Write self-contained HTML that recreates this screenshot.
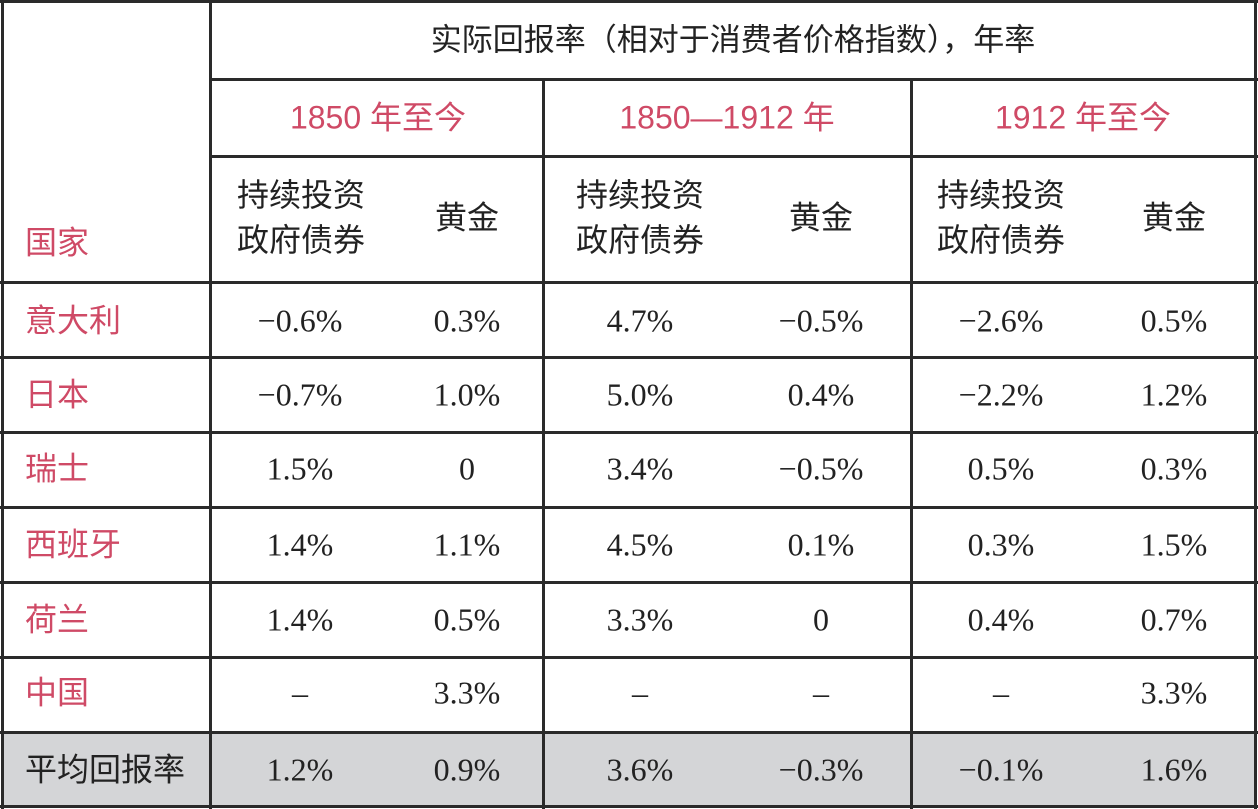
<!DOCTYPE html><html><head><meta charset="utf-8"><style>
body{margin:0;width:1258px;height:809px;background:#fff;position:relative;overflow:hidden}
.h,.v{position:absolute;background:#2a2a2a}
.h{height:3px}.v{width:3px}
.t{position:absolute;transform:translate(-50%,-50%);white-space:nowrap;font-family:"Liberation Sans","Noto Sans CJK SC",sans-serif;font-size:32px;color:#222;line-height:45px;text-align:center}
.r{color:#cf4a66}
.n{font-family:"Liberation Serif","Noto Serif CJK SC",serif;font-size:32px}
.l{transform:translate(0,-50%)}
</style></head><body>
<div style="position:absolute;left:2px;top:732px;width:1254px;height:75px;background:#d4d5d7"></div>
<div class="h" style="left:0;top:0;width:1258px"></div>
<div class="h" style="left:210px;top:78px;width:1048px"></div>
<div class="h" style="left:210px;top:155px;width:1048px"></div>
<div class="h" style="left:0;top:281px;width:1258px"></div>
<div class="h" style="left:0;top:356px;width:1258px"></div>
<div class="h" style="left:0;top:431px;width:1258px"></div>
<div class="h" style="left:0;top:506px;width:1258px"></div>
<div class="h" style="left:0;top:581px;width:1258px"></div>
<div class="h" style="left:0;top:656px;width:1258px"></div>
<div class="h" style="left:0;top:731px;width:1258px"></div>
<div class="h" style="left:0;top:805px;width:1258px"></div>
<div class="v" style="left:1px;top:0;height:809px"></div>
<div class="v" style="left:209px;top:0;height:809px"></div>
<div class="v" style="left:542px;top:78px;height:731px"></div>
<div class="v" style="left:910px;top:78px;height:731px"></div>
<div class="v" style="left:1254px;top:0;height:809px"></div>

<div class="t" style="left:733px;top:40px;font-size:31px">实际回报率（相对于消费者价格指数），年率</div>
<div class="t r" style="left:378px;top:118px">1850 年至今</div>
<div class="t r" style="left:727px;top:118px">1850—1912 年</div>
<div class="t r" style="left:1083px;top:118px">1912 年至今</div>
<div class="t" style="left:301px;top:218px">持续投资<br>政府债券</div>
<div class="t" style="left:467px;top:218px">黄金</div>
<div class="t" style="left:640px;top:218px">持续投资<br>政府债券</div>
<div class="t" style="left:821px;top:218px">黄金</div>
<div class="t" style="left:1001px;top:218px">持续投资<br>政府债券</div>
<div class="t" style="left:1174px;top:218px">黄金</div>
<div class="t r l" style="left:25px;top:243px">国家</div>

<div class="t r l" style="left:25px;top:321px">意大利</div>
<div class="t r l" style="left:25px;top:395px">日本</div>
<div class="t r l" style="left:25px;top:469px">瑞士</div>
<div class="t r l" style="left:25px;top:545px">西班牙</div>
<div class="t r l" style="left:25px;top:620px">荷兰</div>
<div class="t r l" style="left:25px;top:693px">中国</div>
<div class="t l" style="left:25px;top:770px">平均回报率</div>

<div class="t n" style="left:300px;top:321px">−0.6%</div><div class="t n" style="left:467px;top:321px">0.3%</div><div class="t n" style="left:640px;top:321px">4.7%</div><div class="t n" style="left:821px;top:321px">−0.5%</div><div class="t n" style="left:1001px;top:321px">−2.6%</div><div class="t n" style="left:1174px;top:321px">0.5%</div>
<div class="t n" style="left:300px;top:395px">−0.7%</div><div class="t n" style="left:467px;top:395px">1.0%</div><div class="t n" style="left:640px;top:395px">5.0%</div><div class="t n" style="left:821px;top:395px">0.4%</div><div class="t n" style="left:1001px;top:395px">−2.2%</div><div class="t n" style="left:1174px;top:395px">1.2%</div>
<div class="t n" style="left:300px;top:469px">1.5%</div><div class="t n" style="left:467px;top:469px">0</div><div class="t n" style="left:640px;top:469px">3.4%</div><div class="t n" style="left:821px;top:469px">−0.5%</div><div class="t n" style="left:1001px;top:469px">0.5%</div><div class="t n" style="left:1174px;top:469px">0.3%</div>
<div class="t n" style="left:300px;top:545px">1.4%</div><div class="t n" style="left:467px;top:545px">1.1%</div><div class="t n" style="left:640px;top:545px">4.5%</div><div class="t n" style="left:821px;top:545px">0.1%</div><div class="t n" style="left:1001px;top:545px">0.3%</div><div class="t n" style="left:1174px;top:545px">1.5%</div>
<div class="t n" style="left:300px;top:620px">1.4%</div><div class="t n" style="left:467px;top:620px">0.5%</div><div class="t n" style="left:640px;top:620px">3.3%</div><div class="t n" style="left:821px;top:620px">0</div><div class="t n" style="left:1001px;top:620px">0.4%</div><div class="t n" style="left:1174px;top:620px">0.7%</div>
<div class="t n" style="left:300px;top:693px">–</div><div class="t n" style="left:467px;top:693px">3.3%</div><div class="t n" style="left:640px;top:693px">–</div><div class="t n" style="left:821px;top:693px">–</div><div class="t n" style="left:1001px;top:693px">–</div><div class="t n" style="left:1174px;top:693px">3.3%</div>
<div class="t n" style="left:300px;top:770px">1.2%</div><div class="t n" style="left:467px;top:770px">0.9%</div><div class="t n" style="left:640px;top:770px">3.6%</div><div class="t n" style="left:821px;top:770px">−0.3%</div><div class="t n" style="left:1001px;top:770px">−0.1%</div><div class="t n" style="left:1174px;top:770px">1.6%</div>
</body></html>
